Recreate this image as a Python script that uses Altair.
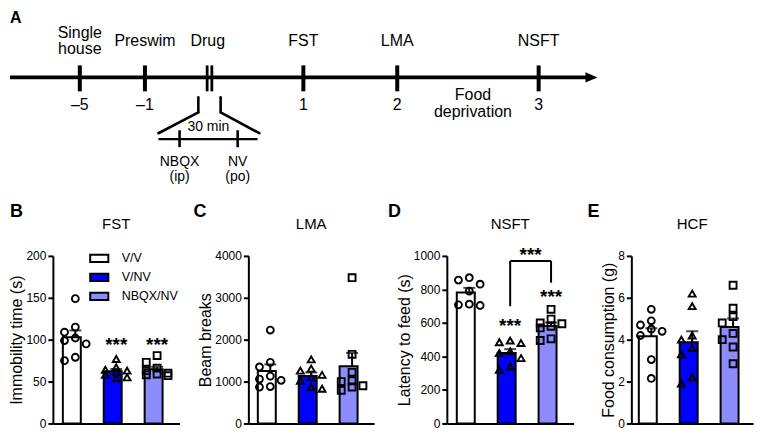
import altair as alt
import pandas as pd
import numpy as np

FONT = "Liberation Sans"

# ---------------- categories / styles ----------------
GROUPS = ["V/V", "V/NV", "NBQX/NV"]
FILLS = ["#ffffff", "#0000ff", "#8c8cff"]
SHAPES = ["circle", "triangle-up", "square"]

# ---------------- panel A: schematic timeline ----------------
TL_EVENTS = ["Single\nhouse", "Preswim", "Drug", "FST", "LMA", "NSFT"]
TL_DAYS = ["\u20135", "\u20131", "", "1", "2", "3"]
TL_EVENT_POS = [11.9, 23.0, 33.7, 50.0, 66.0, 90.1]   # schematic position along the time arrow (0-100)
TL_DRUG_TICKS = [33.6, 34.4]
TL_SUB_LABELS = ["NBQX\n(ip)", "NV\n(po)"]
TL_SUB_POS = [28.9, 38.8]
TL_GAP_LABEL = "Food\ndeprivation"
TL_GAP_POS = 78.9
TL_ZOOM_LABEL = "30 min"

# ---------------- panels B-E: individual animals ----------------
FST_VV = [149, 115, 109, 102, 99, 95, 79, 75]
FST_VNV = [77, 67, 64, 63, 61, 58, 55, 54]
FST_NBQX = [81, 73, 66, 63, 60, 59, 58, 57]

LMA_VV = [2230, 1460, 1350, 1130, 1060, 1030, 880, 870]
LMA_VNV = [1530, 1310, 1260, 1160, 1100, 1020, 870, 830]
LMA_NBQX = [3480, 1650, 1220, 1020, 1000, 900, 870, 790]

NSFT_VV = [870, 856, 831, 790, 712, 708, 704]
NSFT_VNV = [495, 485, 480, 430, 420, 390, 340, 320]
NSFT_NBQX = [681, 623, 600, 595, 580, 570, 505, 495]

HCF_VV = [5.45, 4.9, 4.7, 4.5, 4.4, 4.2, 3.05, 2.15]
HCF_VNV = [6.2, 5.6, 4.2, 4.0, 3.6, 3.3, 2.2, 1.9]
HCF_NBQX = [6.6, 5.5, 5.1, 4.8, 4.3, 4.0, 3.65, 2.85]

PLOT_H = 168


def swarm(values, px_per_unit, d=8.0):
    """Spread overlapping points over three columns (-1, 0, 1)."""
    order = sorted(range(len(values)), key=lambda i: -values[i])
    placed, offs = [], [0] * len(values)
    for i in order:
        best, best_gap = 0, -1
        for cand in [0, -1, 1]:
            gaps = [abs(values[i] - v) * px_per_unit for v, o in placed if o == cand]
            gap = min(gaps) if gaps else 1e9
            if gap >= d:
                best = cand
                break
            if gap > best_gap:
                best, best_gap = cand, gap
        offs[i] = best
        placed.append((values[i], best))
    return offs


def text_chart(txt, x, y, size, weight="normal", align="left", baseline="middle"):
    return alt.Chart(pd.DataFrame({"t": [txt]})).mark_text(
        font=FONT, fontSize=size, fontWeight=weight, align=align, baseline=baseline, color="black"
    ).encode(text="t:N", x=alt.value(x), y=alt.value(y))


def bar_panel(letter, title, ytitle, ymax, yticks, series, width, letter_x,
              stars=None, bracket=None, legend=False):
    grp, vals, offs = [], [], []
    for g, s in zip(GROUPS, series):
        grp += [g] * len(s)
        vals += list(s)
        offs += swarm(s, PLOT_H / ymax)
    pts = pd.DataFrame({"group": grp, "value": vals, "off": offs})
    summ = pts.groupby("group", sort=False)["value"].agg(["mean", "std", "count"]).reset_index()
    summ = summ.rename(columns={"mean": "value"})
    summ["upper"] = summ["value"] + summ["std"] / np.sqrt(summ["count"])

    step = 41.0
    pin = 0.39
    pout = (width / step - 3 + pin) / 2
    xenc = alt.X("group:N", sort=GROUPS,
                 scale=alt.Scale(domain=GROUPS, paddingInner=pin, paddingOuter=pout),
                 axis=alt.Axis(title=None, labels=False, ticks=False,
                               domainWidth=2, domainColor="black"))
    ysc = alt.Scale(domain=[0, ymax], nice=False)
    yax = alt.Axis(values=yticks, tickCount=len(yticks), format="d", titlePadding=1,
                   labelOverlap=False)

    if legend:
        leg = alt.Legend(orient="none", legendX=36, legendY=-8, title=None,
                         symbolType="M-1,-0.4H1V0.4H-1Z", symbolSize=330,
                         symbolStrokeColor="black", symbolStrokeWidth=2,
                         labelFont=FONT, labelFontSize=12.5, labelColor="black",
                         labelOffset=12, rowPadding=0, padding=0)
    else:
        leg = None

    bars = alt.Chart(summ).mark_bar(stroke="black", strokeWidth=2).encode(
        x=xenc,
        y=alt.Y("value:Q", scale=ysc, axis=yax, title=ytitle),
        fill=alt.Fill("group:N", scale=alt.Scale(domain=GROUPS, range=FILLS), legend=leg),
    )
    err = alt.Chart(summ).mark_rule(color="black", strokeWidth=2).encode(
        x=xenc, y=alt.Y("value:Q", scale=ysc, title=ytitle), y2="upper:Q")
    cap = alt.Chart(summ).mark_tick(color="black", thickness=2, size=12).encode(
        x=xenc, y=alt.Y("upper:Q", scale=ysc, title=ytitle))
    layers = [bars, err, cap]
    for g, shp in zip(GROUPS, SHAPES):
        layers.append(
            alt.Chart(pts[pts["group"] == g]).mark_point(
                shape=shp, filled=False, color="black", strokeWidth=1.9, size=48, opacity=1
            ).encode(
                x=xenc,
                xOffset=alt.XOffset("off:Q", scale=alt.Scale(domain=[-1.15, 1.15])),
                y=alt.Y("value:Q", scale=ysc, title=ytitle),
            )
        )

    if stars:
        sdf = pd.DataFrame({"group": stars[0], "value": stars[1], "t": "***"})
        layers.append(alt.Chart(sdf).mark_text(font=FONT, fontSize=19, fontWeight="bold",
                                               baseline="alphabetic", dy=11, color="black").encode(
            x=xenc, y=alt.Y("value:Q", scale=ysc, title=ytitle), text="t:N"))
    if bracket:
        g1, g2, top, e1, e2, sv = bracket
        hdf = pd.DataFrame({"group": [g1], "g2": [g2], "value": [top]})
        layers.append(alt.Chart(hdf).mark_rule(color="black", strokeWidth=2).encode(
            x=xenc, x2="g2:N", y=alt.Y("value:Q", scale=ysc, title=ytitle)))
        vdf = pd.DataFrame({"group": [g1, g2], "value": [top, top], "end": [e1, e2]})
        layers.append(alt.Chart(vdf).mark_rule(color="black", strokeWidth=2).encode(
            x=xenc, y=alt.Y("value:Q", scale=ysc, title=ytitle), y2="end:Q"))
        bdf = pd.DataFrame({"group": [g1], "value": [sv], "t": ["***"]})
        layers.append(alt.Chart(bdf).mark_text(font=FONT, fontSize=19, fontWeight="bold",
                                               baseline="alphabetic", dy=11, dx=20.5,
                                               color="black").encode(
            x=xenc, y=alt.Y("value:Q", scale=ysc, title=ytitle), text="t:N"))

    layers.append(text_chart(letter, letter_x, -44, 18, weight="bold", align="left"))
    layers.append(text_chart(title, width / 2, -32, 15, align="center"))
    return alt.layer(*layers).properties(width=width, height=PLOT_H)


# ---------------- timeline ----------------
# its plot origin is aligned with panel B's plot origin; the arrow starts 43 px left of it
TL_W, TL_H = 710, 186
TL_UNIT_PX = 5.883
TL_X0 = 43 / TL_UNIT_PX
xs = alt.Scale(domain=[TL_X0, TL_X0 + TL_W / TL_UNIT_PX])
ys = alt.Scale(domain=[0, TL_H], reverse=True)
XE = alt.X("x:Q", scale=xs, axis=None)
YE = alt.Y("y:Q", scale=ys, axis=None)

seg = []  # x, y, x2, y2, width
seg.append((0, 69, 98.5, 69, 3.7))
for name, p in zip(TL_EVENTS, TL_EVENT_POS):
    if name != "Drug":
        seg.append((p, 57, p, 83, 4))
for p in TL_DRUG_TICKS:
    seg.append((p, 57, p, 83, 2.8))
seg.append((25.3, 131, 42.2, 131, 2.2))
for p in TL_SUB_POS:
    seg.append((p, 122, p, 139, 2.6))
seg_df = pd.DataFrame(seg, columns=["x", "y", "x2", "y2", "w"])

brk = [(32.1, 89, 32.1, 104), (32.1, 104, 25.3, 125), (35.9, 89, 35.9, 104), (35.9, 104, 42.5, 125)]
brk_df = pd.DataFrame(brk, columns=["x", "y", "x2", "y2"])


def first_line_y(label, center, lh):
    n = label.count("\n") + 1
    return center - (n - 1) * lh / 2


tl_rules = alt.Chart(seg_df).mark_rule(color="black").encode(
    x=XE, y=YE, x2="x2:Q", y2="y2:Q", strokeWidth=alt.StrokeWidth("w:Q", scale=None))
tl_brk = alt.Chart(brk_df).mark_rule(color="black", strokeWidth=2.6, strokeCap="round").encode(
    x=XE, y=YE, x2="x2:Q", y2="y2:Q")
tl_arrow = alt.Chart(pd.DataFrame({"x": [99.1], "y": [69]})).mark_point(
    shape="M-1,-0.85L1,0L-1,0.85Z", filled=True, color="black", size=144, opacity=1).encode(x=XE, y=YE)

up_df = pd.DataFrame({"x": TL_EVENT_POS, "y": [first_line_y(t, 33, 16) for t in TL_EVENTS],
                      "t": TL_EVENTS})
tl_up = alt.Chart(up_df).mark_text(font=FONT, fontSize=16, lineBreak="\n", lineHeight=16,
                                   baseline="middle", color="black").encode(x=XE, y=YE, text="t:N")
day_df = pd.DataFrame({"x": TL_EVENT_POS, "y": 97, "t": TL_DAYS})
tl_day = alt.Chart(day_df).mark_text(font=FONT, fontSize=16, baseline="middle",
                                     color="black").encode(x=XE, y=YE, text="t:N")
gap_df = pd.DataFrame({"x": [TL_GAP_POS], "y": [first_line_y(TL_GAP_LABEL, 95.5, 17)],
                       "t": [TL_GAP_LABEL]})
tl_gap = alt.Chart(gap_df).mark_text(font=FONT, fontSize=16, lineBreak="\n", lineHeight=17,
                                     baseline="middle", color="black").encode(x=XE, y=YE, text="t:N")
zoom_df = pd.DataFrame({"x": [33.8], "y": [119], "t": [TL_ZOOM_LABEL]})
tl_zoom = alt.Chart(zoom_df).mark_text(font=FONT, fontSize=14, baseline="middle",
                                       color="black").encode(x=XE, y=YE, text="t:N")
sub_df = pd.DataFrame({"x": TL_SUB_POS, "y": [first_line_y(t, 161.5, 15) for t in TL_SUB_LABELS],
                       "t": TL_SUB_LABELS})
tl_sub = alt.Chart(sub_df).mark_text(font=FONT, fontSize=14, lineBreak="\n", lineHeight=15,
                                     baseline="middle", color="black").encode(x=XE, y=YE, text="t:N")
a_df = pd.DataFrame({"x": [0], "y": [9], "t": ["A"]})
tl_a = alt.Chart(a_df).mark_text(font=FONT, fontSize=16, fontWeight="bold", align="left",
                                 baseline="middle", color="black").encode(x=XE, y=YE, text="t:N")

timeline = alt.layer(tl_rules, tl_brk, tl_arrow, tl_up, tl_day, tl_gap, tl_zoom, tl_sub, tl_a
                     ).properties(width=TL_W, height=TL_H)

# ---------------- bar panels ----------------
pB = bar_panel("B", "FST", "Immobility time (s)", 200, [0, 50, 100, 150, 200],
               [FST_VV, FST_VNV, FST_NBQX], 127, -43,
               stars=(["V/NV", "NBQX/NV"], [100, 100]), legend=True)
pC = bar_panel("C", "LMA", "Beam breaks", 4000, [0, 1000, 2000, 3000, 4000],
               [LMA_VV, LMA_VNV, LMA_NBQX], 126, -55)
pD = bar_panel("D", "NSFT", "Latency to feed (s)", 1000, [0, 200, 400, 600, 800, 1000],
               [NSFT_VV, NSFT_VNV, NSFT_NBQX], 127, -59,
               stars=(["V/NV", "NBQX/NV"], [613, 787]),
               bracket=("V/NV", "NBQX/NV", 970, 700, 840, 1034))
pE = bar_panel("E", "HCF", "Food consumption (g)", 8, [0, 2, 4, 6, 8],
               [HCF_VV, HCF_VNV, HCF_NBQX], 122, -44)

row = alt.hconcat(pB, pC, pD, pE, spacing=14).resolve_scale(
    x="independent", y="independent", fill="independent")

chart = alt.vconcat(timeline, row, spacing=9).resolve_scale(
    x="independent", y="independent").properties(
    padding={"left": 0, "top": 0, "right": 0, "bottom": 0}
).configure(font=FONT).configure_view(stroke=None).configure_axis(
    grid=False, domainColor="black", tickColor="black", labelColor="black",
    titleColor="black", labelFont=FONT, titleFont=FONT, labelFontSize=12,
    titleFontSize=16, titleFontWeight="normal", domainWidth=2, tickWidth=2,
    tickSize=5, labelPadding=2)

chart.save("out.html", embed_options={"renderer": "svg", "actions": False})
